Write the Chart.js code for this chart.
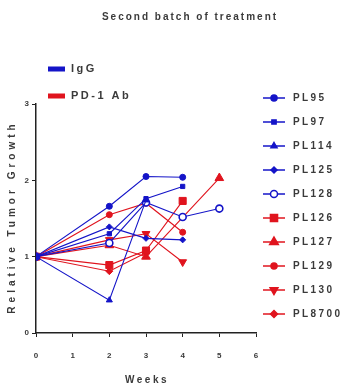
<!DOCTYPE html>
<html><head><meta charset="utf-8">
<script src="https://cdn.jsdelivr.net/npm/chart.js@4"></script>
<style>html,body{margin:0;padding:0;background:#fff;}#w{width:349px;height:387px;}</style>
</head><body><div id="w"><canvas id="c" width="349" height="387"></canvas></div>
<script>
const chartTitle = 'Second batch of treatment';
const xTitle = 'Weeks';
const yTitle = 'Relative Tumor Growth';
const groupNames = ['IgG', 'PD-1 Ab'];
const groupColors = ['#1414c8', '#e0141e'];
const seriesNames = ['PL95','PL97','PL114','PL125','PL128','PL126','PL127','PL129','PL130','PL8700'];
const seriesGroup = [0,0,0,0,0,1,1,1,1,1];
const seriesMarker = ['circle','rect','triangle','rectRot','circle','rect','triangle','circle','triangle','rectRot'];
const seriesRotation = [0,0,0,0,0,0,0,0,180,0];
const seriesOpen = [false,false,false,false,true,false,false,false,false,false];
const seriesSize = [3,3,3.5,3,3.5,5,5,3,4.5,3.5];
// weeks measured and relative growth values
const weeksPL95 = [0,2,3,4];    const valsPL95 = [1,1.66,2.05,2.04];
const weeksPL97 = [0,2,3,4];    const valsPL97 = [1,1.30,1.76,1.92];
const weeksPL114 = [0,2,3];     const valsPL114 = [1,0.43,1.74];
const weeksPL125 = [0,2,3,4];   const valsPL125 = [1,1.39,1.24,1.22];
const weeksPL128 = [0,2,3,4,5]; const valsPL128 = [1,1.18,1.71,1.52,1.63];
const weeksPL126 = [0,2,3,4];   const valsPL126 = [1,0.89,1.08,1.73];
const weeksPL127 = [0,2,3,5];   const valsPL127 = [1,1.15,1.0,2.03];
const weeksPL129 = [0,2,3,4];   const valsPL129 = [1,1.55,1.70,1.32];
const weeksPL130 = [0,2,3,4];   const valsPL130 = [1,1.22,1.30,0.93];
const weeksPL8700 = [0,2,3];    const valsPL8700 = [1,0.81,1.05];
const xTicks = [0,1,2,3,4,5,6];
const yTicks = [0,1,2,3];

const allWeeks = [weeksPL95,weeksPL97,weeksPL114,weeksPL125,weeksPL128,weeksPL126,weeksPL127,weeksPL129,weeksPL130,weeksPL8700];
const allVals = [valsPL95,valsPL97,valsPL114,valsPL125,valsPL128,valsPL126,valsPL127,valsPL129,valsPL130,valsPL8700];

const FONT = '"Liberation Sans", Arial, sans-serif';
const TXT = '#3a3a3a';

const datasets = seriesNames.map((n,i)=>{
  const col = groupColors[seriesGroup[i]];
  return {
    label: n,
    data: allWeeks[i].map((w,j)=>({x:w, y:allVals[i][j]})),
    showLine: true,
    borderColor: col,
    borderWidth: 1.1,
    backgroundColor: seriesOpen[i] ? '#ffffff' : col,
    pointBorderColor: col,
    pointBorderWidth: seriesOpen[i] ? 1.6 : 1,
    pointStyle: seriesMarker[i],
    pointRotation: seriesRotation[i],
    pointRadius: seriesSize[i],
    pointHoverRadius: seriesSize[i]
  };
});

const decor = {
  id: 'decor',
  beforeDraw(chart){
    const ctx = chart.ctx;
    ctx.save();
    ctx.fillStyle = '#fff';
    ctx.fillRect(0,0,chart.width,chart.height);
    ctx.restore();
  },
  afterDraw(chart){
    const ctx = chart.ctx;
    const ca = chart.chartArea;
    ctx.save();
    ctx.fillStyle = TXT;
    ctx.textBaseline = 'middle';
    // title
    ctx.letterSpacing = '2px';
    ctx.font = 'bold 10px ' + FONT;
    ctx.textAlign = 'center';
    ctx.fillText(chartTitle, 190, 17);
    // x title
    ctx.letterSpacing = '2.5px';
    ctx.fillText(xTitle, (ca.left + ca.right)/2 + 1, 380);
    // y title
    ctx.save();
    ctx.translate(12, 219);
    ctx.rotate(-Math.PI/2);
    ctx.letterSpacing = '4px';
    ctx.fillText(yTitle, 2, 0);
    ctx.restore();
    // group legend
    ctx.textAlign = 'left';
    ctx.letterSpacing = '2.5px';
    ctx.font = 'bold 11px ' + FONT;
    const gy = [69, 96];
    groupNames.forEach((g,i)=>{
      ctx.fillStyle = groupColors[i];
      ctx.fillRect(48, gy[i]-2.5, 17, 5);
      ctx.fillStyle = TXT;
      ctx.fillText(g, 71, gy[i]);
    });
    // series legend
    ctx.font = 'bold 10px ' + FONT;
    ctx.letterSpacing = '2.4px';
    seriesNames.forEach((n,i)=>{
      const y = 98 + i*24;
      const col = groupColors[seriesGroup[i]];
      ctx.strokeStyle = col;
      ctx.lineWidth = 1.5;
      ctx.beginPath(); ctx.moveTo(263,y); ctx.lineTo(285,y); ctx.stroke();
      ctx.fillStyle = seriesOpen[i] ? '#fff' : col;
      Chart.helpers.drawPoint(ctx, {pointStyle: seriesMarker[i], rotation: seriesRotation[i], radius: seriesSize[i], borderWidth: seriesOpen[i]?1.6:1}, 274, y);
      ctx.fillStyle = TXT;
      ctx.fillText(n, 293, y);
    });
    ctx.restore();
  }
};

new Chart(document.getElementById('c'), {
  type: 'scatter',
  data: { datasets },
  plugins: [decor],
  options: {
    responsive: false,
    animation: false,
    devicePixelRatio: 1,
    layout: { padding: { left: 0, right: 93, top: 104, bottom: 0 } },
    plugins: { legend: { display: false }, tooltip: { enabled: false }, title: { display: false } },
    scales: {
      x: {
        type: 'linear', min: 0, max: 6,
        afterBuildTicks(s){ s.ticks = xTicks.map(v=>({value:v})); },
        afterFit(s){ s.height = 54; },
        grid: { display: true, drawOnChartArea: false, drawTicks: true, tickLength: 4, color: '#222', lineWidth: 1 },
        border: { color: '#222', width: 1.5 },
        ticks: { color: TXT, font: { family: FONT, size: 8, weight: 'bold' }, padding: 14, maxRotation: 0 },
        title: { display: false }
      },
      y: {
        type: 'linear', min: 0, max: 3,
        afterBuildTicks(s){ s.ticks = yTicks.map(v=>({value:v})); },
        afterFit(s){ s.width = 36; },
        grid: { display: true, drawOnChartArea: false, drawTicks: true, tickLength: 4, color: '#222', lineWidth: 1 },
        border: { color: '#222', width: 1.5 },
        ticks: { color: TXT, font: { family: FONT, size: 8, weight: 'bold' }, padding: 3 },
        title: { display: false }
      }
    }
  }
});
</script>
</body></html>
